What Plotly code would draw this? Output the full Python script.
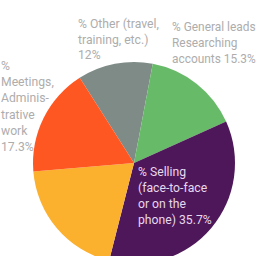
import plotly.graph_objects as go

# Data
labels = ["% Other (travel, training, etc.)", "% General leads Researching accounts",
          "% Selling (face-to-face or on the phone)", "% Other activities",
          "% Meetings, Administrative work"]
values = [12.0, 15.3, 35.7, 19.7, 17.3]
colors = ["#7f8b87", "#67bb68", "#4e1759", "#fbb02e", "#ff5721"]
label_lines = [["% Other (travel,", "training, etc.)", "12%"],
               ["% General leads", "Researching", "accounts 15.3%"],
               ["% Selling", "(face-to-face", "or on the", "phone) 35.7%"],
               None,
               ["%", "Meetings,", "Adminis-", "trative", "work", "17.3%"]]

W, H = 257, 274
def px(x): return x / W
def py(y): return 1 - y / H

cx, cy, r = 134, 163, 101

fig = go.Figure(go.Pie(
    labels=labels, values=values, sort=False, direction="clockwise",
    rotation=327.5, textinfo="none", hoverinfo="none",
    marker=dict(colors=colors, line=dict(width=0)),
    domain=dict(x=[px(cx - r), px(cx + r)], y=[py(cy + r), py(cy - r)]),
    showlegend=False,
))

# (left x, first baseline y, line step, colour, font size)
pos = [(77, 28.5, 15.3, "#adadad", 12.2), (171, 30.7, 16.3, "#adadad", 11.9),
       (137, 176.7, 15.8, "#e6d8ee", 12.2), None, (-0.5, 70, 16.3, "#adadad", 12.2)]
anns = []
for lines, p in zip(label_lines, pos):
    if lines is None:
        continue
    x0, b0, step, col, fs = p
    for i, t in enumerate(lines):
        base = b0 + i * step
        anns.append(dict(text=t, x=px(x0), y=py(base - 0.345 * fs), xref="paper", yref="paper",
                         xanchor="left", yanchor="middle", align="left", showarrow=False,
                         borderpad=0,
                         font=dict(family="Roboto, sans-serif", size=fs, color=col)))

fig.update_layout(width=W, height=H, margin=dict(l=0, r=0, t=0, b=0),
                  paper_bgcolor="white", plot_bgcolor="white", annotations=anns)

fig.write_html("out.html", post_script="document.body.style.overflow='hidden';document.documentElement.style.overflow='hidden';document.body.style.margin='0';")
